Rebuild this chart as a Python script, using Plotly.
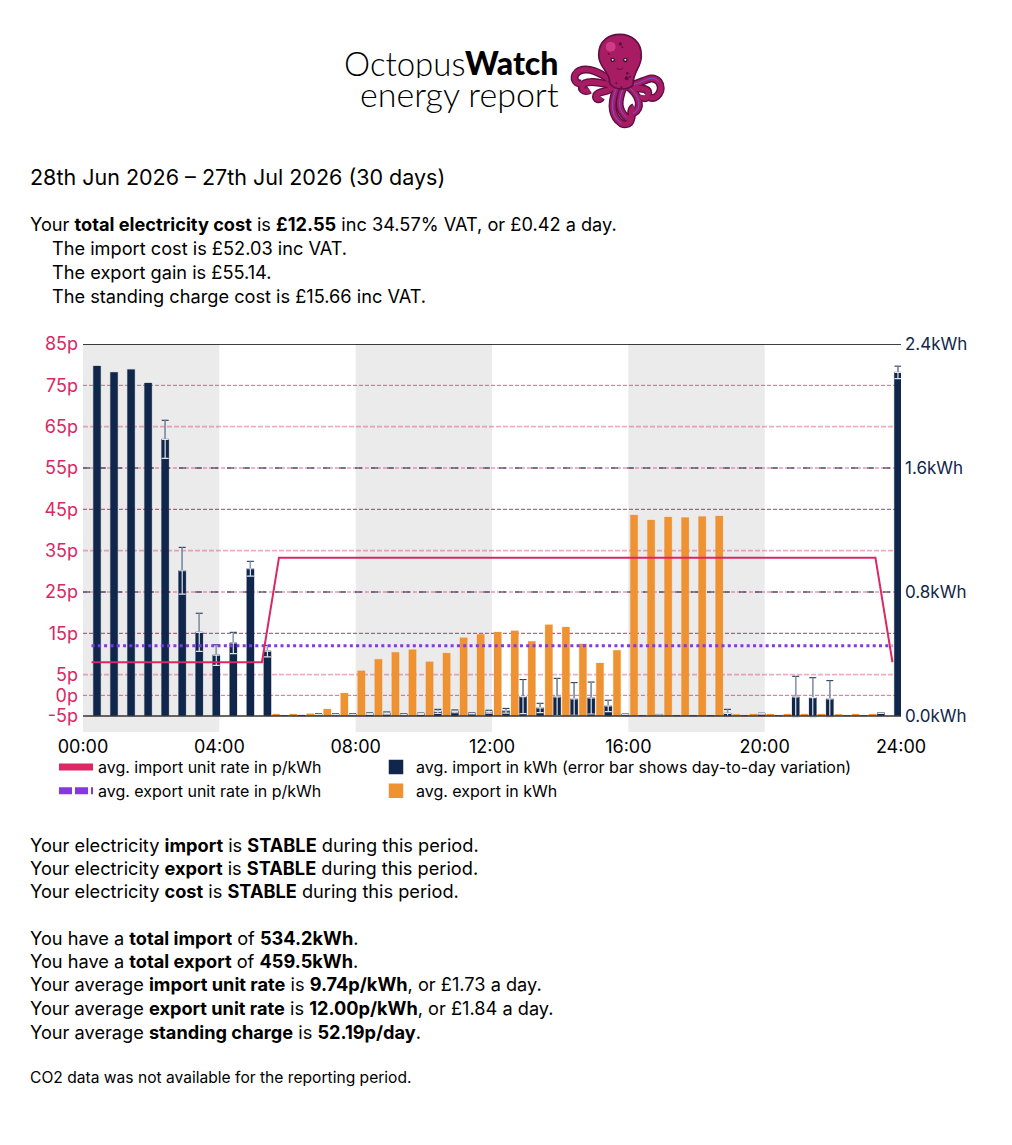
import plotly.graph_objects as go

# ---------- data ----------
slots = list(range(48))
import_kwh = [2.258, 2.217, 2.236, 2.148, 1.785, 0.937, 0.540, 0.393, 0.471, 0.950, 0.419, 0.004,
              0.006, 0.011, 0.011, 0.011, 0.015, 0.019, 0.011, 0.015, 0.030, 0.030, 0.017, 0.028,
              0.034, 0.125, 0.052, 0.123, 0.110, 0.116, 0.065, 0.011, 0.004, 0.008, 0.004, 0.004,
              0.004, 0.017, 0.004, 0.015, 0.004, 0.123, 0.118, 0.110, 0.004, 0.004, 0.019, 2.217]
import_err = [0.0, 0.0, 0.0, 0.0, 0.123, 0.151, 0.123, 0.066, 0.069, 0.048, 0.037, 0.0,
              0.0, 0.004, 0.004, 0.004, 0.005, 0.007, 0.004, 0.004, 0.013, 0.009, 0.004, 0.009,
              0.015, 0.110, 0.030, 0.120, 0.105, 0.103, 0.037, 0.002, 0.0, 0.002, 0.0, 0.0,
              0.0, 0.026, 0.0, 0.003, 0.0, 0.133, 0.129, 0.118, 0.0, 0.0, 0.002, 0.040]
export_kwh = [0, 0, 0, 0, 0, 0, 0, 0, 0, 0, 0, 0.013,
              0.013, 0.015, 0.045, 0.148, 0.292, 0.366, 0.411, 0.428, 0.350, 0.406, 0.505, 0.527,
              0.542, 0.550, 0.482, 0.589, 0.574, 0.465, 0.342, 0.424, 1.297, 1.265, 1.284, 1.280,
              1.287, 1.290, 0.011, 0.013, 0.013, 0.013, 0.013, 0.013, 0.011, 0.013, 0.013, 0]
import_rate = [8.0] * 11 + [33.3] * 36 + [8.0]
export_rate = [12.0] * 48

p_ticks = [85, 75, 65, 55, 45, 35, 25, 15, 5, 0, -5]
p_labels = ["85p", "75p", "65p", "55p", "45p", "35p", "25p", "15p", "5p", "0p", "-5p"]
kwh_ticks = [0, 0.8, 1.6, 2.4]
kwh_labels = ["0.0kWh", "0.8kWh", "1.6kWh", "2.4kWh"]
hour_ticks = [0, 4, 8, 12, 16, 20, 24]
hour_labels = ["00:00", "04:00", "08:00", "12:00", "16:00", "20:00", "24:00"]
grey_bands = [(0, 4), (8, 12), (16, 20)]

NAVY = "#10264a"
ORANGE = "#ee9232"
CRIMSON = "#db2763"
PURPLE = "#8338e0"
FONT = "Inter"

# ---------- page geometry ----------
W, H = 1012, 1145
L, R, T, B = 83, 901, 344, 732
def px(x): return (x - L) / (R - L)
def py(y): return (B - y) / (B - T)

# half-hour slot in hours; bars sit at fixed offsets inside the slot
SLOT = 0.5
PX_PER_H = (R - L) / 24
BAR_W = 7.4 / PX_PER_H
hours = [s * SLOT for s in slots]
line_x = [h + 0.25 for h in hours]
imp_off = 10.3 / PX_PER_H
exp_off = 2.0 / PX_PER_H
imp_center = [h + imp_off + BAR_W / 2 for h in hours]

fig = go.Figure()

fig.add_trace(go.Bar(x=hours, y=export_kwh, width=BAR_W, offset=exp_off, name="avg. export in kWh",
                     marker=dict(color=ORANGE, line=dict(width=0.6, color="rgba(238,146,50,0.4)")),
                     showlegend=False, yaxis="y"))
fig.add_trace(go.Bar(x=hours, y=import_kwh, width=BAR_W, offset=imp_off, name="avg. import in kWh",
                     marker=dict(color=NAVY, line=dict(width=0.6, color="rgba(16,38,74,0.4)")),
                     showlegend=False, yaxis="y"))

# error bars: dark cap above, white cap inside the bar, greyer stem above
err_x = [x for x, e in zip(imp_center, import_err) if e > 0]
err_y = [y for y, e in zip(import_kwh, import_err) if e > 0]
err_v = [e for e in import_err if e > 0]
fig.add_trace(go.Scatter(x=err_x, y=err_y, mode="markers", marker=dict(size=1, opacity=0), showlegend=False, hoverinfo="skip",
                         error_y=dict(type="data", symmetric=False, array=err_v, arrayminus=[0] * len(err_v),
                                      color=NAVY, thickness=1, width=3.5), yaxis="y"))
fig.add_trace(go.Scatter(x=err_x, y=err_y, mode="markers", marker=dict(size=1, opacity=0), showlegend=False, hoverinfo="skip",
                         error_y=dict(type="data", symmetric=False, array=err_v, arrayminus=[0] * len(err_v),
                                      color="#8f9bb0", thickness=1.4, width=0), yaxis="y"))
fig.add_trace(go.Scatter(x=err_x, y=err_y, mode="markers", marker=dict(size=1, opacity=0), showlegend=False, hoverinfo="skip",
                         error_y=dict(type="data", symmetric=False, array=[0] * len(err_v), arrayminus=err_v,
                                      color="#dfe3ea", thickness=1.2, width=3.5), yaxis="y"))

fig.add_trace(go.Scatter(x=line_x, y=export_rate, mode="lines", name="avg. export unit rate in p/kWh",
                         line=dict(color=PURPLE, width=3, dash="3px,3.3px"), showlegend=False, yaxis="y2"))
fig.add_trace(go.Scatter(x=line_x, y=import_rate, mode="lines", name="avg. import unit rate in p/kWh",
                         line=dict(color=CRIMSON, width=2), showlegend=False, yaxis="y2"))

# legend entries
fig.add_trace(go.Scatter(x=[None], y=[None], mode="lines", name="avg. import unit rate in p/kWh",
                         line=dict(color=CRIMSON, width=7), legend="legend", yaxis="y2"))
fig.add_trace(go.Scatter(x=[None], y=[None], mode="lines", name="avg. export unit rate in p/kWh",
                         line=dict(color=PURPLE, width=7, dash="13px,3px"), legend="legend", yaxis="y2"))
fig.add_trace(go.Bar(x=[None], y=[None], name="avg. import in kWh (error bar shows day-to-day variation)",
                     marker=dict(color=NAVY, line=dict(color=NAVY, width=2.5)), legend="legend2", yaxis="y"))
fig.add_trace(go.Bar(x=[None], y=[None], name="avg. export in kWh",
                     marker=dict(color=ORANGE, line=dict(color=ORANGE, width=2.5)), legend="legend2", yaxis="y"))

shapes = []
for a, b in grey_bands:
    shapes.append(dict(type="rect", xref="x", yref="paper", x0=a, x1=b, y0=0, y1=1,
                       fillcolor="#ebebeb", line=dict(width=0), layer="below"))

fine = dict(color="rgba(219,39,99,0.72)", width=1, dash="4px,2px")
heavy = dict(color="rgba(219,39,99,0.38)", width=1.6, dash="5px,2px")
for v, style in [(75, fine), (65, heavy), (55, fine), (45, fine), (35, heavy), (25, fine), (15, fine), (5, heavy), (0, fine)]:
    shapes.append(dict(type="line", xref="paper", yref="y2", x0=0, x1=1, y0=v, y1=v, line=style, layer="below"))
for v in (15, 45):
    shapes.append(dict(type="line", xref="paper", yref="y2", x0=0, x1=1, y0=v, y1=v,
                       line=dict(color="rgba(16,38,74,0.3)", width=1, dash="4px,2px"), layer="below"))
for v in kwh_ticks[1:3]:
    shapes.append(dict(type="line", xref="paper", yref="y", x0=0, x1=1, y0=v, y1=v,
                       line=dict(color=NAVY, width=1, dash="7px,9px"), layer="below"))
shapes.append(dict(type="line", xref="paper", yref="y", x0=0, x1=1, y0=2.4, y1=2.4,
                   line=dict(color="#000000", width=1.5), layer="above"))
shapes.append(dict(type="line", xref="paper", yref="y", x0=0, x1=1, y0=0, y1=0,
                   line=dict(color="#3a3a3a", width=1.4), layer="above"))

# ---------- logo mascot (drawn in page pixels from the 3x crop) ----------
OX, OY = 568, 30
def pt(x, y): return f"{px(OX + x / 3):.5f},{py(OY + y / 3):.5f}"
def curve(*p):
    d = "M" + pt(*p[0])
    for i in range(1, len(p), 3):
        d += " C" + " ".join(pt(*q) for q in p[i:i + 3])
    return d
def stroke(d, color, w):
    shapes.append(dict(type="path", xref="paper", yref="paper", path=d, line=dict(color=color, width=w), layer="above"))

tentacles = [
    [(125, 150), (95, 125), (60, 112), (35, 122), (10, 135), (18, 165), (42, 160)],
    [(130, 165), (100, 160), (70, 150), (50, 160), (30, 175), (50, 190), (65, 180)],
    [(135, 170), (120, 190), (95, 180), (85, 195), (80, 210), (95, 210), (100, 202)],
    [(145, 175), (130, 215), (125, 255), (160, 280), (180, 290), (200, 270), (180, 258)],
    [(165, 175), (150, 215), (150, 240), (175, 262), (190, 272), (195, 262), (188, 255)],
    [(180, 170), (215, 195), (225, 235), (195, 250), (185, 255), (190, 235), (198, 232)],
    [(190, 165), (225, 160), (250, 130), (272, 155), (290, 180), (265, 212), (245, 202)],
    [(195, 175), (225, 175), (245, 175), (240, 195), (235, 210), (220, 205), (222, 195)],
]
for t in tentacles:
    stroke(curve(*t), "#5e0f45", 8)
for t in tentacles:
    stroke(curve(*t), "#a81c63", 5.2)
for t in tentacles[3:7]:
    stroke(curve(*t[:4]), "#6a5ae0", 1)
body = ("M" + pt(92, 75) + " C" + pt(92, 30) + " " + pt(125, 13) + " " + pt(155, 13)
        + " C" + pt(190, 13) + " " + pt(222, 35) + " " + pt(220, 80)
        + " C" + pt(218, 115) + " " + pt(195, 125) + " " + pt(195, 165)
        + " C" + pt(180, 182) + " " + pt(140, 182) + " " + pt(125, 160)
        + " C" + pt(128, 125) + " " + pt(92, 115) + " " + pt(92, 75) + " Z")
shapes.append(dict(type="path", xref="paper", yref="paper", path=body, fillcolor="#a81c63",
                   line=dict(color="#5e0f45", width=1.6), layer="above"))
def dot(x, y, r, color):
    shapes.append(dict(type="circle", xref="paper", yref="paper", x0=px(OX + (x - r) / 3), x1=px(OX + (x + r) / 3),
                       y0=py(OY + (y + r) / 3), y1=py(OY + (y - r) / 3), fillcolor=color, line=dict(width=0), layer="above"))
dot(128, 50, 15, "#cf3a86")
for x, y, r in [(157, 42, 5), (163, 52, 3), (122, 72, 3), (178, 130, 4), (176, 145, 6), (186, 140, 3), (145, 160, 3), (160, 172, 3)]:
    dot(x, y, r, "#5e0f45")
for x in (134, 172):
    dot(x, 90, 6.5, "#2a0a20")
    dot(x, 89, 3, "#ffffff")
stroke("M" + pt(145, 113) + " C" + pt(150, 120) + " " + pt(160, 120) + " " + pt(165, 113), "#5e0f45", 1)

fig.update_layout(shapes=shapes)

# ---------- page text ----------
def text(x, y, s, size=18.2, anchor="left", color="#000000", family=FONT, weight=None, height=None, valign="middle"):
    f = dict(family=family, size=size, color=color)
    if weight:
        f["weight"] = weight
    fig.add_annotation(xref="paper", yref="paper", x=px(x), y=py(y), text=s, showarrow=False,
                       xanchor=anchor, yanchor="middle", align=anchor, font=f, borderpad=0, borderwidth=0,
                       height=height, valign=valign)

text(465, 63, "Octopus", 33, "right", family="Lato", weight=300, height=31)
text(465, 63, "Watch", 32, "left", family="Lato", weight=900, height=31)
text(559, 95, "energy report", 34, "right", family="Lato", weight=300, height=37, valign="bottom")

text(30, 177, "28th Jun 2026 – 27th Jul 2026 (30 days)", 21.5)
text(30, 224, "Your <b>total electricity cost</b> is <b>£12.55</b> inc 34.57% VAT, or £0.42 a day.")
text(52, 248, "The import cost is £52.03 inc VAT.")
text(52, 272, "The export gain is £55.14.")
text(52, 296, "The standing charge cost is £15.66 inc VAT.")

text(30, 845, "Your electricity <b>import</b> is <b>STABLE</b> during this period.")
text(30, 868, "Your electricity <b>export</b> is <b>STABLE</b> during this period.")
text(30, 891, "Your electricity <b>cost</b> is <b>STABLE</b> during this period.")
text(30, 938, "You have a <b>total import</b> of <b>534.2kWh</b>.")
text(30, 961, "You have a <b>total export</b> of <b>459.5kWh</b>.")
text(30, 984, "Your average <b>import unit rate</b> is <b>9.74p/kWh</b>, or £1.73 a day.")
text(30, 1008, "Your average <b>export unit rate</b> is <b>12.00p/kWh</b>, or £1.84 a day.")
text(30, 1032, "Your average <b>standing charge</b> is <b>52.19p/day</b>.")
text(30, 1077, "CO2 data was not available for the reporting period.", 15.6)

legend_common = dict(orientation="v", xanchor="left", yanchor="top", itemclick=False, itemdoubleclick=False,
                     traceorder="normal", bgcolor="rgba(0,0,0,0)", tracegroupgap=0,
                     font=dict(family=FONT, size=16, color="#000000"))

fig.update_layout(
    width=W, height=H, autosize=False,
    margin=dict(l=L, r=W - R, t=T, b=H - B, pad=0),
    paper_bgcolor="#ffffff", plot_bgcolor="rgba(0,0,0,0)",
    barmode="overlay", font=dict(family=FONT, size=16, color="#000000"),
    xaxis=dict(range=[0, 24], tickmode="array", tickvals=hour_ticks, ticktext=hour_labels,
               showgrid=False, zeroline=False, showline=False, ticks="", tickangle=0, ticklabelstandoff=2,
               tickfont=dict(family=FONT, size=18, color="#000000")),
    yaxis=dict(range=[-0.1032, 2.4], side="right", tickmode="array", tickvals=kwh_ticks, ticktext=kwh_labels,
               showgrid=False, zeroline=False, showline=False, ticks="", ticklabelstandoff=3,
               tickfont=dict(family=FONT, size=17, color=NAVY)),
    yaxis2=dict(range=[-8.87, 85], side="left", overlaying="y", tickmode="array", tickvals=p_ticks, ticktext=p_labels,
                showgrid=False, zeroline=False, showline=False, ticks="", ticklabelstandoff=4,
                tickfont=dict(family=FONT, size=18, color=CRIMSON)),
    legend=dict(x=px(54), y=py(750), itemwidth=34, **legend_common),
    legend2=dict(x=px(376), y=py(750), itemwidth=30, **legend_common),
    showlegend=True,
)

fig.write_html("out.html", config=dict(displayModeBar=False),
               post_script="document.body.style.margin='0';document.body.style.overflow='hidden';")
